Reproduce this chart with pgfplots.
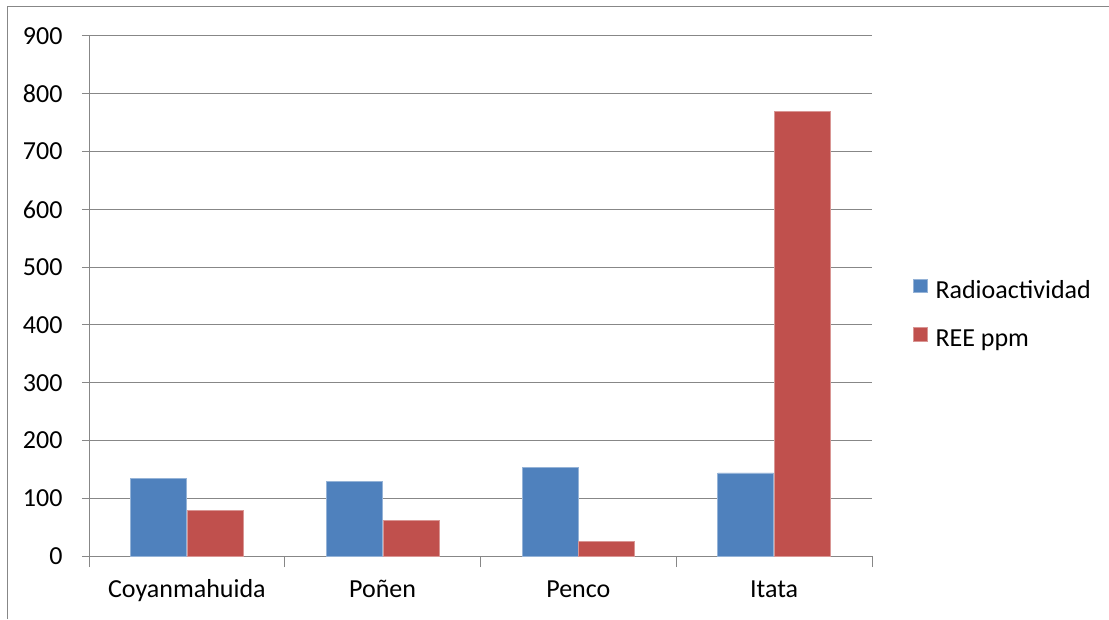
\documentclass[border=0pt]{standalone}
\usepackage{fontspec}
\setmainfont{Carlito}
\usepackage{pgfplots}
\pgfplotsset{compat=1.18}
\definecolor{sblue}{HTML}{4F81BD}
\definecolor{sred}{HTML}{C0504D}
\definecolor{gridgray}{HTML}{878787}
\begin{document}
\begin{tikzpicture}[x=1pt,y=1pt]
\useasboundingbox (0,0) rectangle (1109,619);
\draw[gridgray, line width=1pt] (7,0) -- (7,612) -- (1109,612);
\begin{axis}[
  at={(89pt,63pt)}, anchor=south west,
  scale only axis, width=783pt, height=520pt,
  xmin=-0.5, xmax=3.5, ymin=0, ymax=900,
  ytick={0,100,...,900},
  xtick={0,1,2,3},
  xticklabels={Coyanmahuida,Poñen,Penco,Itata},
  xtick style={draw=none},
  extra x ticks={-0.5,0.5,1.5,2.5,3.5},
  extra x tick labels={},
  extra x tick style={xtick style={draw=gridgray, line width=1pt}, major tick length=11pt},
  axis x line*=bottom, axis y line*=left,
  axis line style={gridgray, line width=1pt},
  ymajorgrids, grid style={gridgray, line width=1pt},
  tick align=outside,
  ytick style={gridgray, line width=1pt},
  major tick length=7pt,
  /pgf/number format/assume math mode=true,
  tick label style={font=\fontsize{26}{30}\selectfont, black},
  yticklabel style={anchor=east, xshift=-16pt},
  xticklabel style={anchor=base, yshift=-34pt},
  ybar, bar width=0.286,
  legend style={at={(1.052,0.463)}, anchor=west, draw=none, fill=none,
    inner sep=0pt, column sep=8pt, row sep=24pt,
    font=\fontsize{26}{30}\selectfont,
    nodes={inner sep=0pt, text height=17pt, text depth=5pt}},
  legend cell align=left,
  legend image code/.code={\fill[#1] (0pt,-0.5pt) rectangle (14pt,13pt);},
]
\addplot[fill=sblue, draw=sblue!60!white, line width=0.6pt, bar shift=-0.145]
  coordinates {(0,134) (1,129) (2,153) (3,144)};
\addplot[fill=sred, draw=sred!60!white, line width=0.6pt, bar shift=0.145]
  coordinates {(0,79) (1,61) (2,25) (3,770)};
\legend{Radioactividad, REE ppm}
\end{axis}
\end{tikzpicture}
\end{document}
